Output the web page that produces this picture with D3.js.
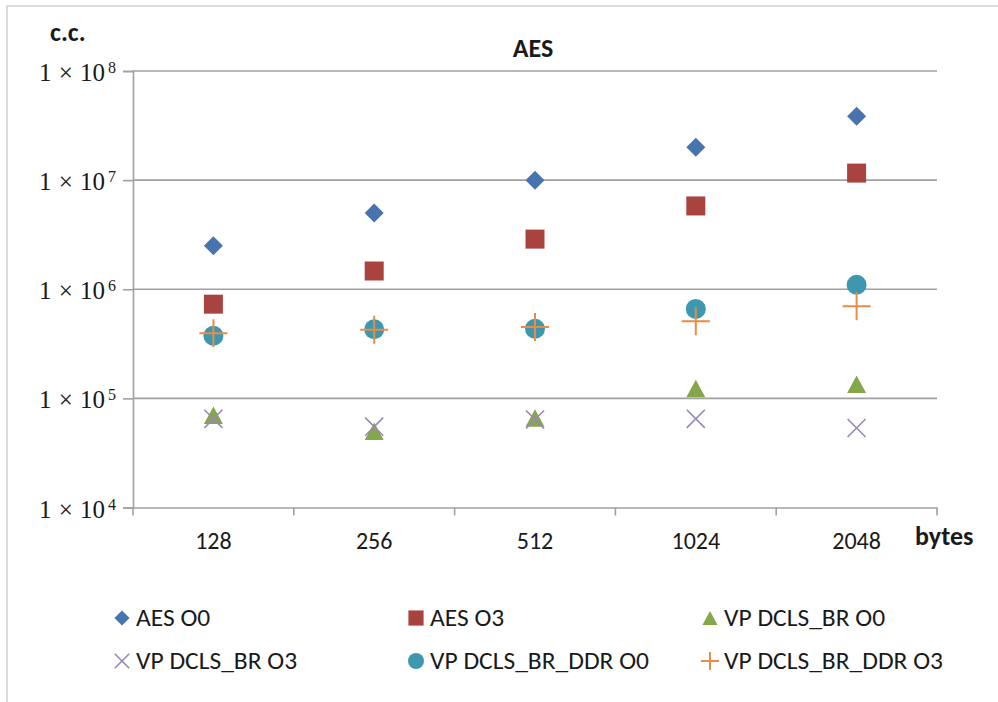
<!DOCTYPE html>
<html>
<head>
<meta charset="utf-8">
<script src="https://cdn.jsdelivr.net/npm/d3@7"></script>
<style>
  html, body { margin: 0; padding: 0; background: #fff; }
  svg { display: block; }
  .sans { font-family: Carlito, Lato, "Open Sans", sans-serif; fill: #1a1a1a; }
  .math { font-family: "Liberation Serif", "DejaVu Serif", serif; fill: #1a1a1a; }
</style>
</head>
<body>
<svg id="chart" width="998" height="702"></svg>
<script>
// Message sizes (bytes) on the category axis
const categories = ["128", "256", "512", "1024", "2048"];

// Clock cycles per series
const aesO0      = [2.5e6, 5.0e6, 1.0e7, 2.0e7, 3.85e7];
const aesO3      = [7.3e5, 1.47e6, 2.88e6, 5.8e6, 1.16e7];
const vpBrO0     = [7.0e4, 5.0e4, 6.6e4, 1.23e5, 1.35e5];
const vpBrO3     = [6.5e4, 5.5e4, 6.4e4, 6.5e4, 5.35e4];
const vpBrDdrO0  = [3.75e5, 4.3e5, 4.35e5, 6.6e5, 1.1e6];
const vpBrDdrO3  = [3.95e5, 4.25e5, 4.5e5, 5.1e5, 7.0e5];

const seriesNames = ["AES O0", "AES O3", "VP DCLS_BR O0", "VP DCLS_BR O3", "VP DCLS_BR_DDR O0", "VP DCLS_BR_DDR O3"];
const yTickExponents = [4, 5, 6, 7, 8];

// Marker shapes as d3 symbol types; "size" is the half-width in px
const shapes = {
  diamond: { draw(c, r) { c.moveTo(0, -r); c.lineTo(r, 0); c.lineTo(0, r); c.lineTo(-r, 0); c.closePath(); } },
  square:  { draw(c, r) { c.rect(-r, -r, 2 * r, 2 * r); } },
  triangle:{ draw(c, r) { const h = r * 0.92; c.moveTo(0, -h); c.lineTo(r, h); c.lineTo(-r, h); c.closePath(); } },
  cross:   { draw(c, r) { const a = r * 0.95; c.moveTo(-a, -a); c.lineTo(a, a); c.moveTo(a, -a); c.lineTo(-a, a); } },
  circle:  { draw(c, r) { c.moveTo(r, 0); c.arc(0, 0, r, 0, 2 * Math.PI); } },
  plus:    { draw(c, r) { c.moveTo(-r, 0); c.lineTo(r, 0); c.moveTo(0, -r); c.lineTo(0, r); } }
};

const series = [
  { name: seriesNames[0], values: aesO0,     shape: "diamond",  r: 9.5, fill: "#4774AE", stroke: "none" },
  { name: seriesNames[1], values: aesO3,     shape: "square",   r: 9.5, fill: "#A9433F", stroke: "none" },
  { name: seriesNames[2], values: vpBrO0,    shape: "triangle", r: 9.5, fill: "#86A64C", stroke: "none" },
  { name: seriesNames[3], values: vpBrO3,    shape: "cross",    r: 9.5, fill: "none",    stroke: "#9887B8", sw: 1.6 },
  { name: seriesNames[4], values: vpBrDdrO0, shape: "circle",   r: 10,  fill: "#3D97AF", stroke: "none" },
  { name: seriesNames[5], values: vpBrDdrO3, shape: "plus",     r: 14,  fill: "none",    stroke: "#E78D45", sw: 2 }
];

const svg = d3.select("#chart");

// Outer chart frame
svg.append("rect")
  .attr("x", 7).attr("y", 6).attr("width", 1000).attr("height", 710)
  .attr("fill", "none").attr("stroke", "#d0d0d0").attr("stroke-width", 1.5);

const plot = { left: 133, right: 937, top: 71, bottom: 507.5 };

const x = d3.scaleBand().domain(categories).range([plot.left, plot.right]);
const y = d3.scaleLog().domain([1e4, 1e8]).range([plot.bottom, plot.top]);

const gridColor = "#a0a0a0";

// Horizontal gridlines
svg.append("g").selectAll("line")
  .data(yTickExponents.slice(1))
  .join("line")
  .attr("x1", plot.left).attr("x2", plot.right)
  .attr("y1", e => y(Math.pow(10, e))).attr("y2", e => y(Math.pow(10, e)))
  .attr("stroke", gridColor).attr("stroke-width", 1.6);

// Y axis with ticks, labels in the form 1 × 10^n
const yAxis = svg.append("g")
  .attr("transform", `translate(${plot.left},0)`)
  .call(d3.axisLeft(y).tickValues(yTickExponents.map(e => Math.pow(10, e))).tickSize(10).tickFormat(""));
yAxis.select(".domain").attr("stroke", gridColor).attr("stroke-width", 1.6);
yAxis.selectAll(".tick line").attr("stroke", gridColor).attr("stroke-width", 1.6);

const yLabels = svg.append("g");
yTickExponents.forEach(e => {
  const yy = y(Math.pow(10, e));
  yLabels.append("text").attr("class", "math")
    .attr("x", 105).attr("y", yy + 10)
    .attr("text-anchor", "end")
    .attr("font-size", 25)
    .attr("word-spacing", 1)
    .text("1 × 10");
  yLabels.append("text").attr("class", "math")
    .attr("x", 108).attr("y", yy + 2)
    .attr("font-size", 16)
    .text(String(e));
});

// X axis: baseline plus tick marks between categories
const xAxis = svg.append("g")
  .attr("transform", `translate(0,${plot.bottom})`)
  .call(d3.axisBottom(x).tickSize(0).tickPadding(0).tickFormat(""));
xAxis.select(".domain").attr("stroke", gridColor).attr("stroke-width", 1.6);

const xBounds = categories.map(c => x(c)).concat([x(categories[categories.length - 1]) + x.bandwidth()]);
svg.append("g").selectAll("line")
  .data(xBounds)
  .join("line")
  .attr("x1", d => d).attr("x2", d => d)
  .attr("y1", plot.bottom).attr("y2", plot.bottom + 8)
  .attr("stroke", gridColor).attr("stroke-width", 1.6);

svg.append("g").selectAll("text")
  .data(categories)
  .join("text")
  .attr("class", "sans")
  .attr("x", d => x(d) + x.bandwidth() / 2)
  .attr("y", 549)
  .attr("text-anchor", "middle")
  .attr("font-size", 24)
  .text(d => d);

// Titles
svg.append("text").attr("class", "sans")
  .attr("x", 533).attr("y", 57).attr("text-anchor", "middle")
  .attr("font-size", 26).attr("font-weight", "bold").text("AES");
svg.append("text").attr("class", "sans")
  .attr("x", 50).attr("y", 41)
  .attr("font-size", 26).attr("font-weight", "bold").text("c.c.");
svg.append("text").attr("class", "sans")
  .attr("x", 915).attr("y", 545)
  .attr("font-size", 26).attr("font-weight", "bold").text("bytes");

// Data markers, one group per series
const marks = svg.append("g");
series.forEach(s => {
  marks.append("g").selectAll("path")
    .data(s.values.map((v, i) => ({ cat: categories[i], v })))
    .join("path")
    .attr("transform", d => `translate(${x(d.cat) + x.bandwidth() / 2},${y(d.v)})`)
    .attr("d", d3.symbol().type(shapes[s.shape]).size(s.r))
    .attr("fill", s.fill)
    .attr("stroke", s.stroke)
    .attr("stroke-width", s.sw || 0);
});

// Legend: three columns, two rows
const legendCols = [122, 416, 710];
const legendRows = [618, 661];
const legend = svg.append("g");
series.forEach((s, i) => {
  const cx = legendCols[i % 3], cy = legendRows[Math.floor(i / 3)];
  legend.append("path")
    .attr("transform", `translate(${cx},${cy})`)
    .attr("d", d3.symbol().type(shapes[s.shape]).size(s.shape === "plus" ? 9 : s.r * 0.8))
    .attr("fill", s.fill)
    .attr("stroke", s.stroke)
    .attr("stroke-width", s.sw || 0);
  legend.append("text").attr("class", "sans")
    .attr("x", cx + 14).attr("y", cy + 8)
    .attr("font-size", 25.5)
    .text(s.name);
});
</script>
</body>
</html>
